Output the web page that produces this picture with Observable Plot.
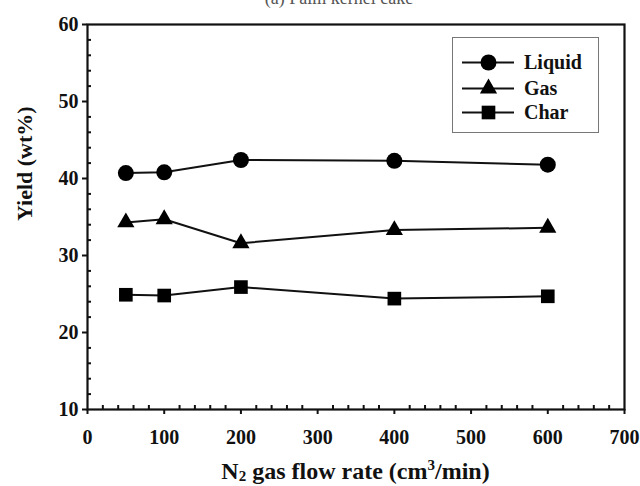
<!DOCTYPE html>
<html>
<head>
<meta charset="utf-8">
<script src="https://cdn.jsdelivr.net/npm/d3@7"></script>
<script src="https://cdn.jsdelivr.net/npm/@observablehq/plot@0.6"></script>
<style>
  html, body { margin: 0; padding: 0; background: #fff; }
  #wrap { position: relative; width: 640px; height: 486px; overflow: hidden; font-family: "Liberation Serif", "Times New Roman", serif; }
  #title { position: absolute; left: 139px; width: 400px; top: -11px; text-align: center; font-size: 18px; line-height: 18px; color: #555; }
  #xlabel { position: absolute; left: 87px; width: 537px; top: 459px; text-align: center; font-size: 24px; font-weight: bold; line-height: 24px; color: #111; }
  #xlabel sub { font-size: 15px; line-height: 0; vertical-align: -2px; }
  #xlabel sup { font-size: 15px; line-height: 0; vertical-align: 9px; }
  #legend { position: absolute; left: 452px; top: 37px; width: 147px; height: 96px; border: 1px solid #777; box-sizing: border-box; }
  .entry { position: absolute; left: 0; height: 24px; display: flex; align-items: center; }
  .entry span { font-size: 20px; font-weight: bold; color: #111; margin-left: 10px; }
</style>
</head>
<body>
<div id="wrap">
  <div id="chart"></div>
  <div id="title">(a) Palm kernel cake</div>
  <div id="xlabel">N<sub>2</sub> gas flow rate (cm<sup>3</sup>/min)</div>
  <div id="legend"></div>
</div>
<script>
// ---- data ----
const flowRates = [50, 100, 200, 400, 600];
const liquid = [40.7, 40.8, 42.4, 42.3, 41.8];
const gas = [34.3, 34.7, 31.6, 33.3, 33.6];
const charY = [24.9, 24.8, 25.9, 24.4, 24.7];
const seriesNames = ["Liquid", "Gas", "Char"];
const seriesSymbols = ["circle", "triangle", "square"];
const xTicks = [0, 100, 200, 300, 400, 500, 600, 700];
const yTicks = [10, 20, 30, 40, 50, 60];
const xMinor = d3.range(0, 701, 20).filter(v => v % 100 !== 0);
const yMinor = d3.range(10, 61, 2).filter(v => v % 10 !== 0);
const yLabel = "Yield (wt%)";

const seriesValues = [liquid, gas, charY];
const rows = [];
seriesNames.forEach((name, i) => {
  flowRates.forEach((x, j) => rows.push({series: name, x, y: seriesValues[i][j], symbol: seriesSymbols[i]}));
});
const symR = {circle: 8, triangle: 6.4, square: 7.7};

const W = 640, H = 486, ML = 87, MR = 16, MT = 24, MB = 77;
const innerW = W - ML - MR, innerH = H - MT - MB;
const minorLen = 4;

const font = "Liberation Serif, Times New Roman, serif";
const plot = Plot.plot({
  width: W,
  height: H,
  marginLeft: ML,
  marginRight: MR,
  marginTop: MT,
  marginBottom: MB,
  style: {fontFamily: font, background: "#fff", color: "#111"},
  x: {domain: [0, 700]},
  y: {domain: [10, 60]},
  marks: [
    Plot.axisX({ticks: xTicks, tickSize: 5, tickPadding: 15, tickFormat: d => d, fontSize: 20, fontWeight: "bold", label: null, strokeWidth: 2}),
    Plot.axisY({ticks: yTicks, tickSize: 5, tickPadding: 4, tickFormat: d => d, fontSize: 20, fontWeight: "bold", label: null, strokeWidth: 2}),
    Plot.tickX(xMinor, {x: d => d, insetTop: innerH - minorLen, stroke: "#111", strokeWidth: 2}),
    Plot.tickY(yMinor, {y: d => d, insetRight: innerW - minorLen, stroke: "#111", strokeWidth: 2}),
    Plot.frame({stroke: "#111", strokeWidth: 2.2}),
    Plot.line(rows, {x: "x", y: "y", z: "series", stroke: "#111", strokeWidth: 2}),
    ...seriesSymbols.map(s => Plot.dot(rows.filter(d => d.symbol === s), {x: "x", y: "y", symbol: s, r: symR[s], fill: "#000", stroke: "none"})),
    Plot.text([yLabel], {frameAnchor: "left", dx: -63, dy: 4, rotate: -90, fontSize: 22, fontWeight: "bold", fill: "#111"})
  ]
});
document.getElementById("chart").appendChild(plot);

// ---- legend ----
const legend = document.getElementById("legend");
const entryTops = [12, 38, 62];
seriesNames.forEach((name, i) => {
  const e = document.createElement("div");
  e.className = "entry";
  e.style.top = entryTops[i] + "px";
  e.style.left = "9px";
  const sw = Plot.plot({
    width: 52, height: 24, margin: 0,
    x: {domain: [0, 1], axis: null}, y: {domain: [0, 1], axis: null},
    marks: [
      Plot.ruleY([0.5], {stroke: "#111", strokeWidth: 2}),
      Plot.dot([{x: 0.5, y: 0.5}], {x: "x", y: "y", symbol: seriesSymbols[i], r: symR[seriesSymbols[i]], fill: "#000"})
    ]
  });
  sw.style.display = "block";
  e.appendChild(sw);
  const t = document.createElement("span");
  t.textContent = name;
  e.appendChild(t);
  legend.appendChild(e);
});
</script>
</body>
</html>
